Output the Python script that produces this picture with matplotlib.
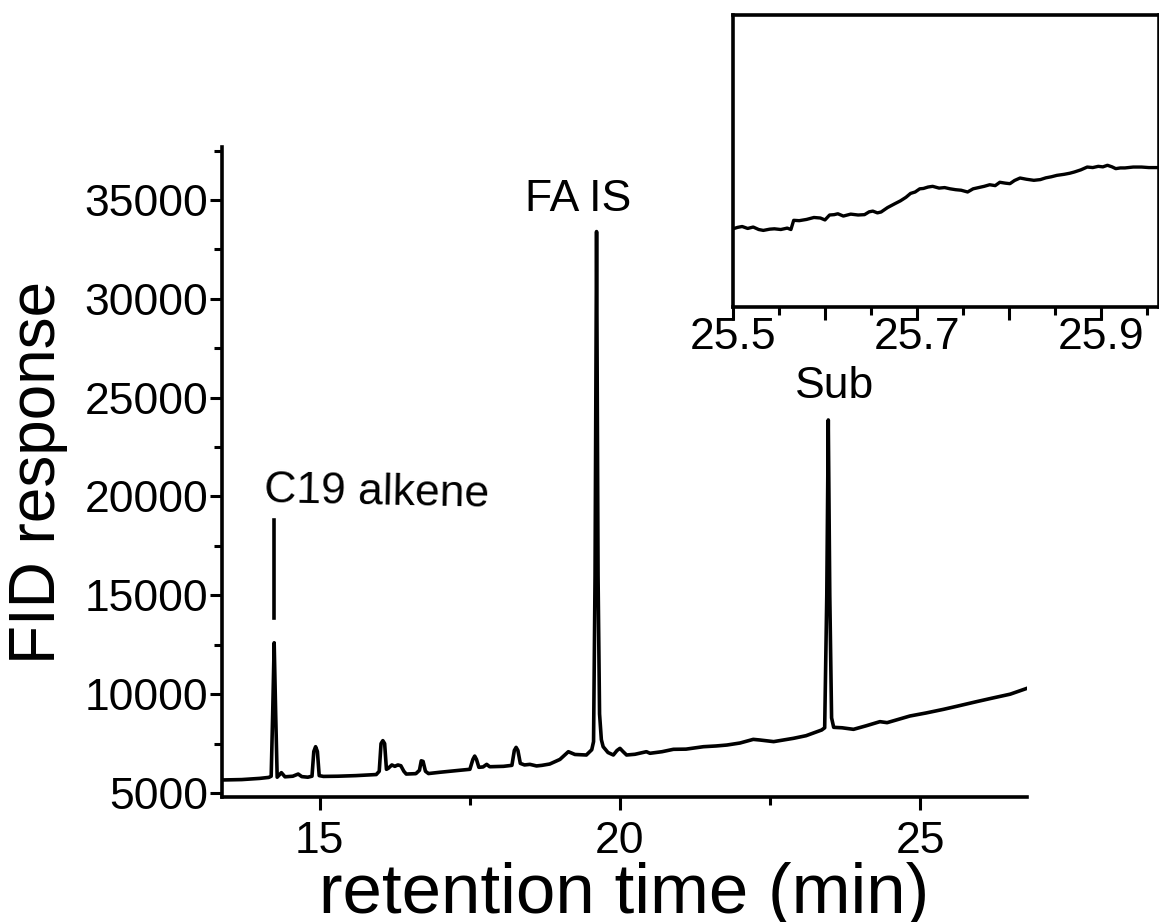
import matplotlib
matplotlib.use("Agg")
import matplotlib.pyplot as plt
from matplotlib.ticker import MultipleLocator

plt.rcParams['font.family'] = ['Liberation Sans', 'DejaVu Sans']

# chromatogram (retention time in min, FID response)
rt = [13.37, 13.7, 14.0, 14.15, 14.19, 14.215, 14.24, 14.265, 14.29, 14.36, 14.42,
      14.55, 14.64, 14.70, 14.80, 14.87, 14.90, 14.93, 14.96, 14.99, 15.06, 15.3,
      15.6, 15.94, 15.99, 16.02, 16.05, 16.08, 16.11, 16.14, 16.20, 16.25, 16.30,
      16.35, 16.40, 16.44, 16.6, 16.66, 16.69, 16.72, 16.76, 16.81, 17.0, 17.33,
      17.50, 17.55, 17.58, 17.61, 17.65, 17.72, 17.78, 17.83, 18.06, 18.20, 18.24,
      18.27, 18.30, 18.34, 18.41, 18.5, 18.61, 18.7, 18.83, 19.0, 19.14, 19.25,
      19.44, 19.53, 19.56, 19.585, 19.61, 19.635, 19.66, 19.69, 19.72, 19.80,
      19.89, 19.95, 20.0, 20.05, 20.11, 20.25, 20.44, 20.5, 20.7, 20.89, 21.1,
      21.39, 21.6, 21.78, 22.0, 22.22, 22.33, 22.56, 22.89, 23.1, 23.36, 23.41,
      23.445, 23.47, 23.495, 23.525, 23.56, 23.7, 23.89, 24.1, 24.33, 24.45,
      24.83, 25.1, 25.39, 25.6, 25.94, 26.2, 26.5, 26.78]
fid = [5660, 5680, 5740, 5790, 5850, 9000, 12600, 9000, 5800, 6030, 5820,
       5850, 5960, 5830, 5800, 5850, 7100, 7343, 7100, 5880, 5840, 5850,
       5880, 5935, 6100, 7500, 7650, 7500, 6200, 6250, 6420, 6350, 6420,
       6380, 6100, 5960, 5980, 6150, 6630, 6600, 6100, 5985, 6050, 6150,
       6200, 6700, 6870, 6700, 6300, 6320, 6450, 6330, 6350, 6400, 7150,
       7310, 7150, 6500, 6420, 6450, 6370, 6400, 6467, 6700, 7090, 6950,
       6923, 7190, 7600, 16000, 33400, 16000, 9000, 7700, 7343, 7050,
       6923, 7150, 7260, 7100, 6923, 6960, 7090, 7010, 7090, 7211, 7220,
       7343, 7380, 7427, 7530, 7714, 7682, 7600, 7767, 7900, 8188, 8300,
       15000, 23870, 15000, 8800, 8323, 8300, 8222, 8400, 8610, 8560,
       8896, 9050, 9234, 9380, 9622, 9800, 10000, 10296]

# inset: zoomed baseline 25.5 - 25.96 min
rt_zoom = [25.500, 25.505, 25.510, 25.516, 25.522, 25.528, 25.533, 25.540, 25.545,
           25.552, 25.559, 25.563, 25.566, 25.572, 25.580, 25.588, 25.595, 25.600,
           25.605, 25.610, 25.614, 25.620, 25.628, 25.636, 25.643, 25.648, 25.652,
           25.657, 25.661, 25.668, 25.676, 25.682, 25.688, 25.693, 25.698, 25.703,
           25.707, 25.712, 25.717, 25.724, 25.730, 25.736, 25.742, 25.748, 25.755,
           25.761, 25.767, 25.773, 25.779, 25.785, 25.790, 25.796, 25.801, 25.806,
           25.812, 25.819, 25.827, 25.834, 25.840, 25.846, 25.852, 25.860, 25.866,
           25.871, 25.878, 25.885, 25.891, 25.897, 25.902, 25.907, 25.912, 25.916,
           25.921, 25.926, 25.935, 25.944, 25.952, 25.961]
fid_zoom = [9272, 9280, 9285, 9274, 9282, 9268, 9263, 9270, 9272,
            9268, 9276, 9268, 9320, 9318, 9325, 9336, 9333, 9322,
            9350, 9352, 9357, 9344, 9355, 9350, 9352, 9368, 9372,
            9362, 9367, 9392, 9414, 9430, 9450, 9472, 9480, 9498,
            9500, 9508, 9512, 9502, 9505, 9498, 9493, 9490, 9480,
            9498, 9505, 9512, 9521, 9516, 9535, 9530, 9527, 9545,
            9559, 9552, 9546, 9550, 9560, 9566, 9574, 9580, 9586,
            9593, 9605, 9621, 9618, 9625, 9622, 9631, 9622, 9612,
            9616, 9616, 9621, 9621, 9618, 9618]

# peak labels
c19_text = (14.08, 20300)
c19_bar_x = 14.24
c19_bar_y = (13850, 18800)
fa_text = (19.30, 35000)
sub_text = (23.58, 25540)

fig = plt.figure(figsize=(11.59, 9.22), dpi=100)
ax = fig.add_axes([0.1915, 0.1356, 0.6946, 0.705])
ax.plot(rt, fid, color='k', linewidth=2.6, solid_joinstyle='round')
ax.set_xlim(13.37, 26.78)
ax.set_ylim(4800, 37680)
ax.xaxis.set_major_locator(MultipleLocator(5))
ax.xaxis.set_minor_locator(MultipleLocator(2.5))
ax.yaxis.set_major_locator(MultipleLocator(5000))
ax.yaxis.set_minor_locator(MultipleLocator(2500))
for s in ['top', 'right']:
    ax.spines[s].set_visible(False)
for s in ['left', 'bottom']:
    ax.spines[s].set_linewidth(2.6)
ax.tick_params(which='major', direction='out', length=9, width=2.2, labelsize=32)
ax.tick_params(which='minor', direction='out', length=6, width=2.2)
ax.tick_params(axis='y', pad=1)
ax.tick_params(axis='x', pad=8)
ax.set_xlabel('retention time (min)', fontsize=51, labelpad=0)
ax.set_ylabel('FID response', fontsize=46, labelpad=12)

ax.text(c19_text[0], c19_text[1], 'C19 alkene', fontsize=32, ha='left', va='center',
        rotation=-1.2, rotation_mode='anchor')
ax.plot([c19_bar_x, c19_bar_x], c19_bar_y, color='k', linewidth=2.6)
ax.text(fa_text[0], fa_text[1], 'FA IS', fontsize=32, ha='center', va='center')
ax.text(sub_text[0], sub_text[1], 'Sub', fontsize=32, ha='center', va='center')

ins = fig.add_axes([0.6324, 0.667, 0.3676, 0.3167])
ins.plot(rt_zoom, fid_zoom, color='k', linewidth=2.4)
ins.set_xlim(25.5, 25.963)
ins.set_ylim(8830, 10480)
ins.set_xticks([25.5, 25.6, 25.7, 25.8, 25.9])
ins.set_xticklabels(['25.5', '', '25.7', '', '25.9'])
ins.xaxis.set_minor_locator(MultipleLocator(0.05))
ins.set_yticks([])
for s in ins.spines.values():
    s.set_linewidth(2.6)
ins.tick_params(which='major', direction='out', length=9, width=2.2, labelsize=32, pad=-2)
ins.tick_params(which='minor', direction='out', length=6, width=2.2)

fig.savefig('out.png', dpi=100)
